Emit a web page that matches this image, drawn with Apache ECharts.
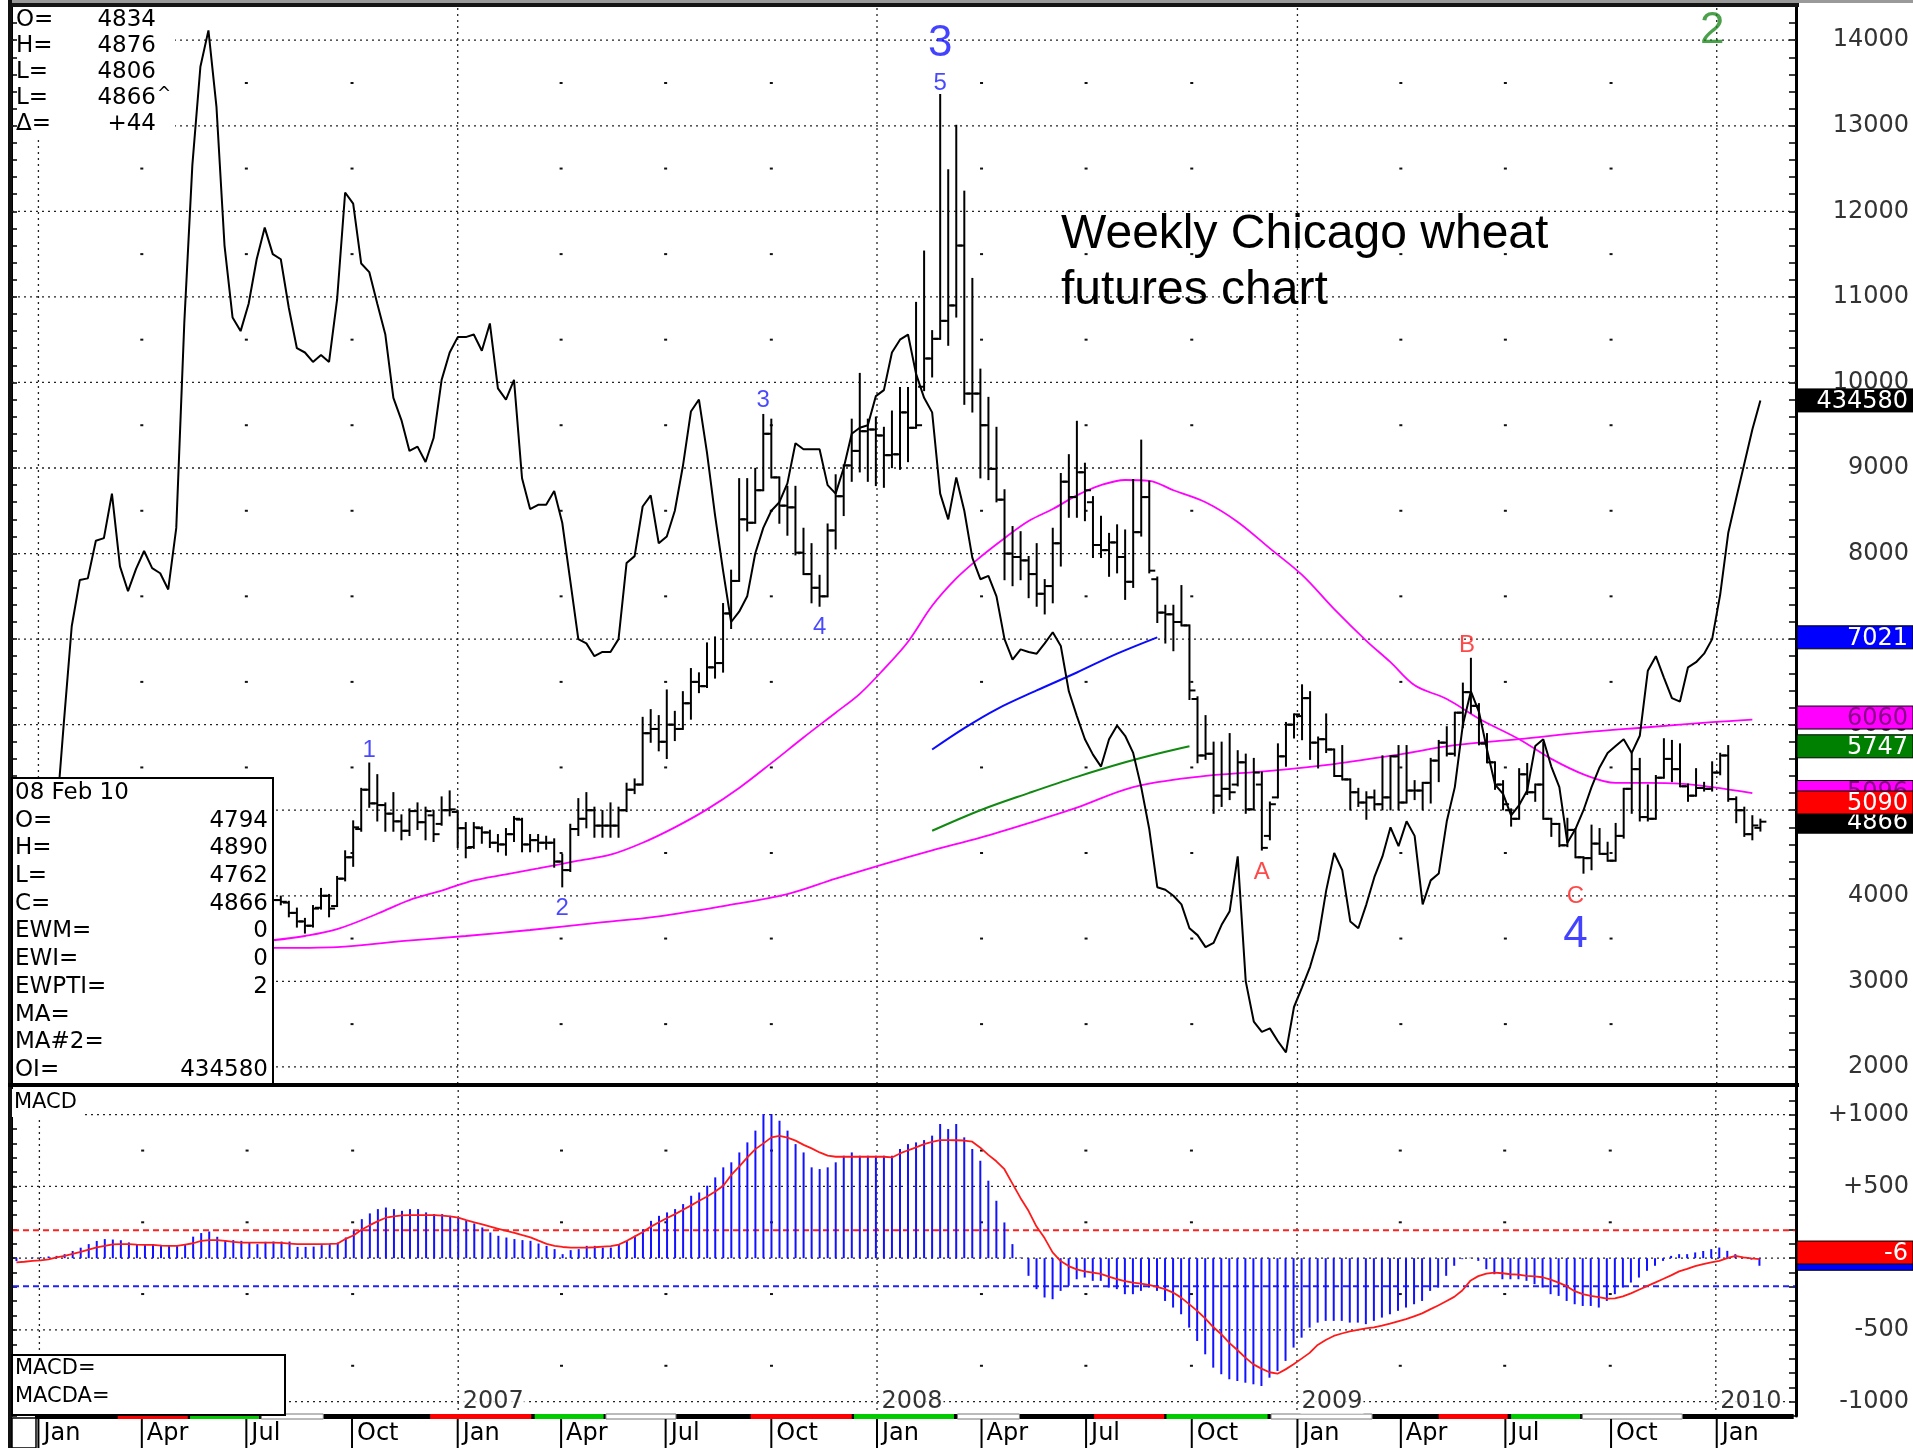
<!DOCTYPE html>
<html>
<head>
<meta charset="utf-8">
<title>Weekly Chicago wheat futures chart</title>
<script src="https://cdn.jsdelivr.net/npm/echarts@6.0.0/dist/echarts.min.js"></script>
<style>
  html, body { margin: 0; padding: 0; background: #fff; }
  #chart { width: 1913px; height: 1448px; }
</style>
</head>
<body>
<div id="chart"></div>
<script>
// weekly bars (Monday dates), first bar 24 Jul 2006, last bar 08 Feb 2010
const barStart = '2006-07-24';
const barOpen = [
  3850,3950,3920,3800,3700,3650,3860,4000,3880,4200,
  4450,4780,5240,5080,5060,4960,4870,4760,4990,4860,
  4940,4840,5000,4980,4790,4570,4790,4740,4620,4600,
  4720,4890,4600,4650,4620,4620,4400,4300,4780,4900,
  5000,4820,4820,4820,5000,5240,5300,5900,5950,5800,
  6000,5950,6250,6500,6450,6670,6720,7300,7680,8400,
  8360,8740,9400,8890,8560,8540,8010,7760,7600,7500,
  8270,8670,9030,9200,9430,9450,9380,9150,9160,9650,
  9470,9950,10280,10510,10720,10900,11600,9870,9870,9500,
  8990,8630,8000,7960,7920,7760,7530,7620,8120,8840,
  8660,8950,8600,8100,8040,8130,7960,7670,8250,8660,
  7700,7310,7290,7200,7160,6300,5640,5660,5170,5250,
  5300,5560,5010,5300,4700,5150,5630,6000,6100,6310,
  5790,5830,5710,5400,5360,5210,5090,5150,5070,5150,
  5630,5090,5230,5230,5320,5580,5790,5660,6140,6380,
  6220,5780,5560,5300,5000,4900,5420,5210,5300,4900,
  4840,4590,4770,4450,4440,4610,4490,4410,4700,5250,
  5480,4920,4900,5380,5600,5480,5280,5170,5260,5250,
  5440,5640,5130,5000,4720,4794
];
const barHigh = [
  4040,3990,3930,3850,3730,3880,4080,4010,4220,4520,
  4870,5250,5546,5410,5080,5200,4940,5010,5080,5030,
  4990,5150,5220,4990,4850,4850,4800,4760,4710,4780,
  4920,4900,4710,4710,4690,4660,4480,4830,5130,5200,
  5030,4990,5080,5030,5310,5360,6080,6170,6100,6400,
  6150,6380,6650,6600,6950,7020,7410,7800,8870,8870,
  8990,9620,9565,8890,8780,8780,8290,8110,7740,8340,
  8915,9030,9565,10100,9565,9590,9470,9660,9935,9935,
  10930,11530,10600,13360,12480,13000,12230,11210,10150,9820,
  9470,8740,8310,8250,7960,8110,7690,8290,8930,9150,
  9540,9050,8660,8430,8230,8330,8270,8860,9320,8840,
  7720,7390,7390,7620,7160,6320,6100,5790,5790,5890,
  5690,5650,5600,5440,5090,5770,6020,6120,6460,6380,
  5850,6120,5710,5750,5360,5250,5210,5230,5630,5630,
  5750,5750,5340,5320,5600,5810,5970,6140,6480,6770,
  6240,5890,5560,5340,5010,5480,5540,5300,5790,4900,
  4840,4900,4780,4450,4820,4780,4620,4840,5250,5660,
  5600,5290,5400,5830,5810,5770,5300,5480,5320,5560,
  5660,5750,5150,5030,4930,4890
];
const barLow = [
  3780,3900,3760,3640,3570,3640,3850,3760,3880,4180,
  4350,4760,5040,4880,4760,4760,4660,4710,4780,4660,
  4640,4830,4940,4570,4450,4560,4620,4570,4520,4480,
  4640,4520,4520,4520,4550,4340,4110,4290,4710,4800,
  4690,4690,4690,4690,4990,5200,5300,5800,5700,5610,
  5820,5950,6070,6380,6440,6550,6620,7130,7680,8270,
  8360,8740,8890,8360,8220,7990,7760,7430,7390,7500,
  8060,8450,8850,8960,8850,8800,8780,9010,8990,9080,
  9470,9910,10070,10510,10440,10770,9750,9660,8890,8870,
  8610,7700,7630,7700,7490,7390,7300,7430,7860,8430,
  8430,8390,7960,7960,7740,7780,7470,7610,8210,7780,
  7200,6960,6870,7160,6300,5560,5600,4970,5050,5130,
  5290,4970,5010,4540,4660,5150,5520,5850,5830,5600,
  5500,5680,5400,5360,5010,5050,4900,5010,5010,5010,
  5010,5090,5130,5010,5090,5340,5640,5640,5970,6140,
  5770,5560,5250,5010,4820,4900,5190,5110,4900,4700,
  4580,4580,4450,4270,4310,4490,4410,4410,4680,4970,
  4880,4880,4900,5380,5340,5280,5110,5170,5230,5230,
  5420,5110,4860,4700,4660,4762
];
const barClose = [
  3950,3930,3800,3700,3650,3850,4000,3850,4200,4450,
  4800,5240,5080,5060,4960,4870,4760,4990,4860,4990,
  4720,5000,5010,4790,4560,4800,4740,4620,4600,4720,
  4900,4600,4650,4620,4620,4400,4300,4780,4900,5000,
  4820,4820,4820,5000,5240,5300,5900,5950,5800,6000,
  5950,6250,6500,6450,6670,6720,7300,7680,8400,8360,
  8740,9400,8890,8560,8540,8010,7760,7600,7500,8270,
  8670,9030,9200,9430,9450,9380,9150,9160,9650,9470,
  9500,10280,10510,10720,10900,11600,9870,9870,9500,8990,
  8630,8000,7960,7920,7760,7530,7620,8120,8840,8660,
  8950,8740,8100,8040,8130,7960,7670,8250,8660,7800,
  7310,7290,7200,7160,6400,5640,5660,5170,5250,5210,
  5560,5010,5440,4560,5070,5630,6000,6120,6310,5790,
  5830,5710,5400,5360,5210,5090,5150,5070,5150,5630,
  5090,5230,5230,5320,5580,5790,5660,6140,6380,6220,
  5780,5560,5300,5070,4900,5420,5210,5300,4900,4840,
  4590,4770,4450,4440,4610,4490,4410,4700,5250,5480,
  4920,4900,5380,5600,5480,5280,5170,5260,5250,5440,
  5640,5130,5000,4720,4822,4866
];

// indicator series, weekly from 12 Dec 2005
const indStart = '2005-12-12';
const openInterest = [
  298780,300780,302780,304780,316780,334780,358780,381780,392580,392980,
  401780,402380,412780,395780,389980,395180,399380,395380,394180,390380,
  404780,452780,489580,512580,521080,503180,470780,453980,450780,457180,
  467580,474980,468780,467580,456180,446780,445780,443580,445180,443580,
  458180,483180,480580,466580,464580,457180,449980,435180,429980,422780,
  423780,420180,425780,439380,445780,449380,449380,449980,446180,452580,
  437380,434780,439380,416380,409180,410180,410180,413380,405980,392380,
  378780,377780,374780,375780,375780,378780,396580,398180,409780,412380,
  401180,402780,408780,419180,431980,434780,422380,407780,394780,382780,
  385180,388780,398780,404780,408780,410780,415180,424580,423180,423180,
  423180,414780,412780,418780,426780,428180,428780,435580,436980,445780,
  448780,449980,440780,435180,431780,412780,406780,416580,408780,397780,
  392780,393580,388780,378780,373980,376380,375780,375380,377780,380380,
  377180,366580,360780,355380,351780,348980,355380,358580,356180,352180,
  344180,334380,320780,320180,318780,316780,311180,309580,306780,307780,
  311980,315180,327980,298780,289380,286980,287780,284780,282180,292780,
  297380,302180,308580,319980,328780,324780,312780,311180,316780,323180,
  327980,334780,330380,336180,332780,316780,322380,323980,336180,344180,
  358780,366580,361780,352980,344780,342580,337580,339980,343380,353780,
  355380,348980,344180,331180,334380,338780,344180,348780,352180,353780,
  355380,352180,356180,371380,374780,369780,364980,364180,372180,373380,
  375380,378780,389180,403580,411780,419780,427780,434580
];
const macdHist = [
  -20,0,5,8,12,16,28,50,73,98,
  120,133,130,125,110,98,98,98,93,86,
  86,95,150,175,186,149,126,126,121,109,
  98,114,116,116,116,79,79,81,91,98,
  109,144,191,272,312,342,353,342,330,342,
  342,319,307,307,295,284,260,242,214,179,
  156,144,133,126,121,102,86,63,28,56,
  63,86,86,74,74,98,121,156,202,260,
  295,319,342,377,435,458,505,563,633,668,
  737,807,889,1005,1005,958,889,795,737,633,
  621,633,668,714,737,714,714,714,714,714,
  761,795,807,823,854,935,
  900,935,842,761,679,540,400,249,98,5,
  -123,-216,-274,-286,-228,-193,-147,-135,-158,-158,
  -205,-216,-251,-251,-228,-205,-228,-298,-344,-391,
  -484,-577,-670,-763,-809,-844,-856,-868,-879,-891,
  -833,-786,-716,-623,-554,-484,-449,-437,-437,-437,
  -449,-449,-460,-437,-414,-391,-367,-344,-321,-298,
  -228,-205,-123,-53,-7,3,-19,-77,-112,-147,
  -147,-147,-158,-181,-205,-251,-263,-298,-321,-333,
  -333,-344,-298,-251,-205,-170,-135,-88,-53,-19,
  16,28,28,40,50,63,74,51,28,5,
  -10,-53
];
const macdSignal = [
  -30,-25,-19,-15,-8,5,16,30,44,60,
  75,85,96,98,98,95,93,92,88,86,
  86,95,104,120,126,126,120,114,109,109,
  109,109,109,106,102,98,98,98,98,99,
  102,135,160,200,230,258,282,292,298,300,
  300,300,300,296,292,282,265,250,235,220,
  205,190,176,160,145,122,100,86,78,74,
  74,74,76,81,84,95,121,152,182,220,
  250,280,307,337,368,400,430,465,505,580,
  640,702,760,800,842,852,840,819,790,765,
  737,715,707,707,707,707,707,707,707,702,
  730,752,772,795,810,823,823,822,820,812,
  770,720,675,620,520,420,330,220,140,40,
  -20,-55,-78,-92,-100,-110,-128,-146,-160,-170,
  -178,-186,-200,-216,-240,-275,-320,-367,-420,-480,
  -530,-590,-640,-693,-740,-770,-795,-805,-775,-740,
  -700,-660,-605,-570,-542,-525,-510,-500,-490,-482,
  -470,-456,-440,-425,-405,-385,-357,-330,-300,-270,
  -225,-158,-125,-108,-100,-105,-112,-115,-123,-127,
  -133,-150,-170,-195,-230,-251,-262,-272,-282,-280,
  -266,-245,-220,-195,-170,-145,-120,-92,-75,-55,
  -42,-30,-19,0,16,5,-2,-6
];

// smoothed lines: [week counted from barStart, value]
const maSlow = [[0,3390],[8,3400],[16,3470],[24,3530],[32,3600],[40,3680],[48,3760],[56,3880],[64,4020],[70,4200],[76,4370],[82,4530],[88,4680],[94,4850],[100,5030],[107,5270],[115,5390],[124,5460],[132,5540],[140,5650],[147,5760],[155,5830],[163,5910],[171,5970],[179,6030],[184,6060]];
const maFast = [[0,3480],[4,3530],[8,3610],[13,3790],[17,3950],[21,4060],[25,4180],[29,4250],[33,4320],[38,4410],[42,4480],[46,4620],[50,4800],[54,5010],[58,5260],[62,5550],[66,5850],[70,6140],[73,6360],[76,6650],[79,6970],[82,7390],[85,7710],[88,7960],[91,8180],[94,8380],[97,8520],[100,8680],[103,8800],[106,8860],[109,8850],[112,8740],[116,8600],[120,8370],[124,8060],[128,7750],[132,7350],[136,6980],[139,6730],[142,6460],[146,6300],[150,6070],[155,5830],[159,5600],[163,5420],[167,5320],[171,5320],[175,5310],[179,5270],[184,5200]];
const trendBlue = [[82,5710],[86,5960],[90,6180],[95,6400],[100,6610],[105,6830],[110,7021]];
const trendGreen = [[82,4760],[88,5000],[94,5200],[100,5390],[106,5560],[110,5660],[114,5747]];

// axes, grid, labels
const priceTicks = [2000,3000,4000,5000,6000,7000,8000,9000,10000,11000,12000,13000,14000];
const priceHalfTicks = [2500,3500,4500,5500,6500,7500,8500,9500,10500,11500,12500,13500];
const macdTicks = [1000,500,0,-500,-1000];
const macdTickText = ['+1000','+500','','-500','-1000'];
const macdHalfTicks = [750,250,-250,-750];
const macdBands = [195,-195];
const yearLines = ['2006-01-01','2007-01-01','2008-01-01','2009-01-01','2010-01-01'];
const yearLabels = ['2007','2008','2009','2010'];
const quarterDates = ['2006-01-01','2006-04-01','2006-07-01','2006-10-01','2007-01-01','2007-04-01','2007-07-01','2007-10-01','2008-01-01','2008-04-01','2008-07-01','2008-10-01','2009-01-01','2009-04-01','2009-07-01','2009-10-01','2010-01-01'];
const quarterNames = ['Jan','Apr','Jul','Oct','Jan','Apr','Jul','Oct','Jan','Apr','Jul','Oct','Jan','Apr','Jul','Oct','Jan'];
// contract strip under the panels: [from, to, kind] kind 0 black, 1 red, 2 green, 3 white
const stripSegments = [
  ['2005-12-29','2010-03-09',0],
  ['2006-03-11','2006-05-11',1],['2006-05-13','2006-07-12',2],['2006-07-14','2006-09-06',3],
  ['2006-12-08','2007-03-06',1],['2007-03-09','2007-05-08',2],['2007-05-10','2007-07-10',3],
  ['2007-09-13','2007-12-10',1],['2007-12-12','2008-03-08',2],['2008-03-11','2008-05-04',3],
  ['2008-07-08','2008-09-07',1],['2008-09-09','2008-12-06',2],['2008-12-09','2009-03-07',3],
  ['2009-05-04','2009-07-03',1],['2009-07-06','2009-09-04',2],['2009-09-06','2009-12-02',3]
];
// wave counts: [text, week from barStart, price, kind]
const waveMarks = [
  ['3',83,13956,'bigBlue'],['5',83,13500,'blue'],['3',61,9795,'blue'],['4',68,7142,'blue'],
  ['1',12,5700,'blue'],['2',36,3857,'blue'],['A',123,4278,'red'],['B',148.5,6931,'red'],
  ['C',162,3997,'red'],['4',162,3542,'bigBlue'],['2',179,14107,'bigGreen']
];
const titleLines = ['Weekly Chicago wheat','futures chart'];
const headerInfo = [['O=','4834'],['H=','4876'],['L=','4806'],['L=','4866^'],['\u0394=','+44']];
const barInfo = [['08 Feb 10',''],['O=','4794'],['H=','4890'],['L=','4762'],['C=','4866'],['EWM=','0'],['EWI=','0'],['EWPTI=','2'],['MA=',''],['MA#2=',''],['OI=','434580']];
const tagTexts = ['434580','7021','6060','5747','5096','4866','5090'];
const tagValues = [434580,7021,6060,5747,5096,4866,5090];
const macdTagTexts = ['','-6'];
const macdTagValues = [-53,-6];

const DAY = 864e5;
const ts = s => { const p = s.split('-').map(Number); return Date.UTC(p[0], p[1] - 1, p[2]); };
const week = (start, k) => ts(start) + k * 7 * DAY;
const X_MIN = ts('2005-12-09'), X_MAX = ts('2010-03-11');
const P_MIN = 1800, P_MAX = 14400, M_MIN = -1100, M_MAX = 1200;
// open interest laid over the price scale (434580 sits at 9790)
const OI_MIN = 274780, OI_MAX = 526780;
const FONT = 'DejaVu Sans';
const markStyle = {
  bigBlue: { color: '#1414ff', size: 44 }, blue: { color: '#1a1aff', size: 24 },
  red: { color: '#ff1a1a', size: 24 }, bigGreen: { color: '#1e8a1e', size: 44 }
};
const stripColor = ['#000', '#ff0000', '#00cc00', '#ffffff'];

function hLines(values, xi, yi, stroke, dash, width) {
  return {
    type: 'custom', xAxisIndex: xi, yAxisIndex: yi, silent: true, z: 1,
    data: values.map(v => [X_MIN, v]),
    renderItem: (params, api) => {
      const a = api.coord([X_MIN, api.value(1)]);
      const b = api.coord([X_MAX, api.value(1)]);
      return { type: 'line', shape: { x1: a[0], y1: a[1], x2: b[0], y2: b[1] },
               style: { stroke: stroke, lineWidth: width, lineDash: dash } };
    }
  };
}
function vLines(dates, xi, yi, lo, hi) {
  return {
    type: 'custom', xAxisIndex: xi, yAxisIndex: yi, silent: true, z: 1,
    data: dates.map(d => [ts(d), lo]),
    renderItem: (params, api) => {
      const a = api.coord([api.value(0), lo]);
      const b = api.coord([api.value(0), hi]);
      return { type: 'line', shape: { x1: a[0], y1: a[1], x2: b[0], y2: b[1] },
               style: { stroke: '#222', lineWidth: 1.3, lineDash: [2, 4] } };
    }
  };
}
function gridDots(levels, xi, yi) {
  const data = [];
  quarterDates.filter(d => yearLines.indexOf(d) < 0)
    .forEach(d => levels.forEach(v => data.push([ts(d), v])));
  return {
    type: 'custom', xAxisIndex: xi, yAxisIndex: yi, silent: true, z: 1, data: data,
    renderItem: (params, api) => {
      const c = api.coord([api.value(0), api.value(1)]);
      return { type: 'rect', shape: { x: c[0] - 1.5, y: c[1] - 1, width: 3, height: 2 }, style: { fill: '#111' } };
    }
  };
}
function weekLine(points, color, width, z) {
  return {
    type: 'line', xAxisIndex: 0, yAxisIndex: 0, z: z, silent: true, showSymbol: false, smooth: 0.35,
    data: points.map(p => [week(barStart, p[0]), p[1]]),
    lineStyle: { color: color, width: width }
  };
}

const chart = echarts.init(document.getElementById('chart'));

chart.setOption({
  animation: false,
  backgroundColor: '#fff',
  grid: [
    { left: 12, right: 117, top: 6, height: 1078, outerBoundsMode: 'none' },
    { left: 12, right: 117, top: 1086, height: 330, outerBoundsMode: 'none' },
    { left: 12, right: 117, top: 1414, height: 34, outerBoundsMode: 'none' }
  ],
  xAxis: [0, 1, 2].map(g => ({ type: 'time', gridIndex: g, min: X_MIN, max: X_MAX, show: false })),
  yAxis: [
    { gridIndex: 0, type: 'value', min: P_MIN, max: P_MAX, interval: 200, position: 'right',
      axisLine: { show: true, lineStyle: { color: '#000', width: 3 } },
      axisTick: { show: true, inside: true, length: 7, lineStyle: { color: '#000', width: 1.5 } },
      axisLabel: { formatter: v => priceTicks.indexOf(v) >= 0 ? String(v) : '', align: 'right', margin: 113,
                   color: '#333', fontFamily: FONT, fontSize: 24, padding: [6, 0, 0, 0] },
      splitLine: { show: false } },
    { gridIndex: 0, type: 'value', min: P_MIN, max: P_MAX, interval: 200, position: 'left',
      axisLine: { show: true, lineStyle: { color: '#000', width: 2 } },
      axisTick: { show: true, inside: true, length: 5, lineStyle: { color: '#000', width: 1.5 } },
      axisLabel: { show: false }, splitLine: { show: false } },
    { gridIndex: 0, type: 'value', min: OI_MIN, max: OI_MAX, show: false },
    { gridIndex: 1, type: 'value', min: M_MIN, max: M_MAX, interval: 100, position: 'right',
      axisLine: { show: true, lineStyle: { color: '#000', width: 3 } },
      axisTick: { show: true, inside: true, length: 7, lineStyle: { color: '#000', width: 1.5 } },
      axisLabel: { formatter: v => { const k = macdTicks.indexOf(v); return k >= 0 ? macdTickText[k] : ''; },
                   align: 'right', margin: 113, color: '#333', fontFamily: FONT, fontSize: 24 },
      splitLine: { show: false } },
    { gridIndex: 1, type: 'value', min: M_MIN, max: M_MAX, interval: 100, position: 'left',
      axisLine: { show: true, lineStyle: { color: '#000', width: 2 } },
      axisTick: { show: true, inside: true, length: 5, lineStyle: { color: '#000', width: 1.5 } },
      axisLabel: { show: false }, splitLine: { show: false } },
    { gridIndex: 2, type: 'value', min: 0, max: 1, show: false }
  ],
  series: [
    // price panel grid
    hLines(priceTicks, 0, 0, '#222', [2, 4], 1.3),
    vLines(yearLines, 0, 0, P_MIN, P_MAX),
    gridDots(priceHalfTicks, 0, 0),
    // moving averages and trend lines
    weekLine(maSlow, '#ff00ff', 1.8, 2),
    weekLine(maFast, '#ff00ff', 1.8, 2),
    weekLine(trendBlue, '#0a0aff', 2, 2),
    weekLine(trendGreen, '#118811', 2, 2),
    // open interest
    { type: 'line', xAxisIndex: 0, yAxisIndex: 2, z: 3, silent: true, showSymbol: false,
      data: openInterest.map((v, k) => [week(indStart, k), v]),
      lineStyle: { color: '#000', width: 2 } },
    // weekly OHLC bars
    { type: 'custom', xAxisIndex: 0, yAxisIndex: 0, z: 4, silent: true,
      data: barClose.map((c, k) => [week(barStart, k), barOpen[k], barHigh[k], barLow[k], c]),
      encode: { x: 0, y: [1, 2, 3, 4] },
      renderItem: (params, api) => {
        const x = api.value(0);
        const o = api.coord([x, api.value(1)]), h = api.coord([x, api.value(2)]);
        const l = api.coord([x, api.value(3)]), c = api.coord([x, api.value(4)]);
        const st = { stroke: '#000', lineWidth: 2 };
        return { type: 'group', children: [
          { type: 'line', shape: { x1: h[0], y1: h[1] - 1, x2: l[0], y2: l[1] + 1 }, style: st },
          { type: 'line', shape: { x1: o[0] - 6, y1: o[1], x2: o[0], y2: o[1] }, style: st },
          { type: 'line', shape: { x1: c[0], y1: c[1], x2: c[0] + 6, y2: c[1] }, style: st }
        ] };
      } },
    // wave counts
    { type: 'scatter', xAxisIndex: 0, yAxisIndex: 0, z: 6, silent: true, symbolSize: 1,
      itemStyle: { color: 'rgba(0,0,0,0)' },
      data: waveMarks.map(m => ({
        value: [week(barStart, m[1]), m[2]], name: m[0],
        label: { show: true, position: 'inside', formatter: '{b}', color: markStyle[m[3]].color,
                 fontSize: markStyle[m[3]].size, fontFamily: 'Liberation Sans' }
      })) },

    // MACD panel grid
    hLines(macdTicks, 1, 3, '#222', [2, 4], 1.3),
    vLines(yearLines, 1, 3, M_MIN, M_MAX),
    gridDots(macdHalfTicks, 1, 3),
    hLines([macdBands[0]], 1, 3, '#ff2020', [6, 4], 2),
    hLines([macdBands[1]], 1, 3, '#2020ff', [6, 4], 2),
    { type: 'bar', xAxisIndex: 1, yAxisIndex: 3, z: 3, silent: true, barWidth: 2,
      data: macdHist.map((v, k) => [week(indStart, k), v]),
      itemStyle: { color: '#1212ff' } },
    { type: 'line', xAxisIndex: 1, yAxisIndex: 3, z: 4, silent: true, showSymbol: false,
      data: macdSignal.map((v, k) => [week(indStart, k), v]),
      lineStyle: { color: '#ff1a1a', width: 1.8 } },
    { type: 'scatter', xAxisIndex: 1, yAxisIndex: 3, z: 6, silent: true, symbolSize: 1,
      itemStyle: { color: 'rgba(0,0,0,0)' },
      data: yearLabels.map((t, k) => ({ value: [ts(yearLines[k + 1]), -1000], name: t })),
      label: { show: true, position: 'right', distance: 3, formatter: '{b}', color: '#000',
               fontFamily: FONT, fontSize: 24, backgroundColor: '#fff', padding: [0, 1] } },

    // contract strip and quarter labels
    { type: 'custom', xAxisIndex: 2, yAxisIndex: 5, silent: true, z: 2,
      data: stripSegments.map(s => [ts(s[0]), ts(s[1]), s[2]]),
      renderItem: (params, api) => {
        const a = api.coord([api.value(0), 1]), b = api.coord([api.value(1), 1]);
        const kind = api.value(2);
        return { type: 'rect', shape: { x: a[0], y: a[1], width: b[0] - a[0], height: 5 },
                 style: { fill: stripColor[kind], stroke: kind === 3 ? '#777' : null, lineWidth: 1 } };
      } },
    { type: 'custom', xAxisIndex: 2, yAxisIndex: 5, silent: true, z: 3,
      data: quarterDates.map(d => [ts(d), 0]),
      renderItem: (params, api) => {
        const top = api.coord([api.value(0), 1]), bot = api.coord([api.value(0), 0]);
        return { type: 'group', children: [
          { type: 'line', shape: { x1: top[0], y1: top[1] + 5, x2: bot[0], y2: bot[1] },
            style: { stroke: '#000', lineWidth: 2 } },
          { type: 'text', x: top[0] + 5, y: top[1] + 20,
            style: { text: quarterNames[params.dataIndex], font: '24px ' + FONT, fill: '#000',
                     align: 'left', verticalAlign: 'middle', textAlign: 'left', textVerticalAlign: 'middle' } }
        ] };
      } }
  ]
});

function txt(x, y, s, size, align, color, family) {
  return { type: 'text', x: x, y: y, z: 120,
    style: { text: s, font: size + 'px ' + (family || FONT), fill: color || '#000',
             align: align || 'left', verticalAlign: 'middle',
             textAlign: align || 'left', textVerticalAlign: 'middle' } };
}
function box(x, y, w, h, fill, stroke, lw, z) {
  return { type: 'rect', z: z || 110, shape: { x: x, y: y, width: w, height: h },
           style: { fill: fill, stroke: stroke || null, lineWidth: lw || 0 } };
}

const g = [];
// frame
g.push(box(8, 0, 1905, 3, '#9a9a9a'));
g.push(box(8, 3, 1791, 4, '#151515'));
g.push(box(8, 0, 4, 1448, '#111'));
g.push(box(8, 1083, 1791, 4, '#000'));
g.push(box(12, 1418, 24, 30, '#fff', '#000', 1.5));
// top-left quote block
g.push(box(17, 7, 158, 131, '#fff'));
headerInfo.forEach((r, k) => {
  const y = 20 + 26 * k;
  g.push(txt(16, y, r[0], 23));
  const caret = r[1].endsWith('^');
  g.push(txt(156, y, caret ? r[1].slice(0, -1) : r[1], 23, 'right'));
  if (caret) g.push(txt(157, y - 3, '^', 17));
});
// bar info box
g.push(box(12, 778, 261, 306, '#fff', '#000', 2));
barInfo.forEach((r, k) => {
  const y = 793 + 27.7 * k;
  g.push(txt(15, y, r[0], 23));
  if (r[1]) g.push(txt(268, y, r[1], 23, 'right'));
});
// MACD labels
g.push(box(12, 1089, 70, 28, '#fff'));
g.push(txt(14, 1103, 'MACD', 21));
g.push(box(12, 1355, 273, 60, '#fff', '#000', 2));
g.push(txt(15, 1369, 'MACD=', 21));
g.push(txt(15, 1397, 'MACDA=', 21));
// title
titleLines.forEach((t, k) => g.push(txt(1061, 235 + 56 * k, t, 48, 'left', '#000', 'Liberation Sans')));

// value tags on the right scale
const tagAxis = [2, 0, 0, 0, 0, 0, 0];
const tagFill = ['#000', '#0000ff', '#ff00ff', '#008000', '#ff00ff', '#000', '#ff0000'];
const tagInk = ['#fff', '#fff', '#8b008b', '#fff', '#8b008b', '#fff', '#fff'];
const tagNudge = [0, 0, -2, 0, -10, 0, 0];
tagTexts.forEach((t, k) => {
  const y = chart.convertToPixel({ yAxisIndex: tagAxis[k] }, tagValues[k]) + tagNudge[k];
  g.push(box(1797, y - 11.5, 116, 23, tagFill[k], '#000', 1, 130 + k));
  g.push(Object.assign(txt(1908, y + 1, t, 24, 'right', tagInk[k]), { z: 130 + k }));
});
const macdFill = ['#0000ff', '#ff0000'];
const macdNudge = [-7, -6.5];
macdTagTexts.forEach((t, k) => {
  const y = chart.convertToPixel({ yAxisIndex: 3 }, macdTagValues[k]) + macdNudge[k];
  g.push(box(1797, y - 11.5, 116, 23, macdFill[k], '#000', 1, 140 + k));
  if (t) g.push(Object.assign(txt(1908, y + 1, t, 24, 'right', '#fff'), { z: 140 + k }));
});

chart.setOption({ graphic: g });
</script>
</body>
</html>
